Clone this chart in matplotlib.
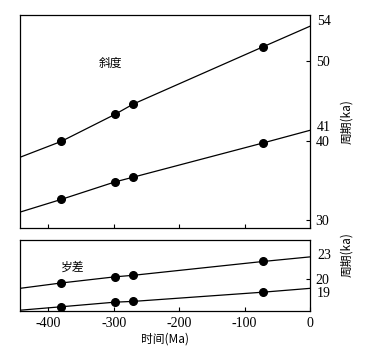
import matplotlib.pyplot as plt
import numpy as np

plt.rcParams['font.family'] = ['Liberation Serif', 'Noto Sans CJK SC', 'DejaVu Sans']

# 年代 (Ma)
ages = [-380, -298, -270, -72]
# 斜度周期 (ka)
obl_54 = [39.9, 43.3, 44.6, 51.8]
obl_41 = [32.6, 34.8, 35.4, 39.7]
# 岁差周期 (ka)
pre_23 = [19.5, 20.3, 20.5, 22.3]
pre_19 = [16.4, 17.0, 17.1, 18.3]
# 线的两端 (左边界, 0 Ma)
line_ends_x = [-443, 0]
obl_54_ends = [37.9, 54.4]
obl_41_ends = [31.0, 41.3]
pre_23_ends = [18.8, 22.9]
pre_19_ends = [15.95, 18.8]

fig = plt.figure(figsize=(3.65, 3.46), dpi=100)
ax1 = fig.add_axes([0.0548, 0.341, 0.795, 0.6156])
ax2 = fig.add_axes([0.0548, 0.1012, 0.795, 0.2052])


def draw_series(ax, ys, ends):
    x = [line_ends_x[0]] + ages + [line_ends_x[1]]
    y = [ends[0]] + ys + [ends[1]]
    ax.plot(x, y, color='k', lw=0.9)
    ax.plot(ages, ys, 'o', color='k', ms=5.5)


draw_series(ax1, obl_54, obl_54_ends)
draw_series(ax1, obl_41, obl_41_ends)
draw_series(ax2, pre_23, pre_23_ends)
draw_series(ax2, pre_19, pre_19_ends)

for ax in (ax1, ax2):
    ax.set_xlim(-443, 0)
    ax.set_xticks([-400, -300, -200, -100, 0])
    ax.yaxis.tick_right()
    ax.tick_params(axis='both', direction='in', length=3, width=0.8, labelsize=10, pad=4)
    ax.tick_params(axis='y', pad=4)
    for s in ax.spines.values():
        s.set_linewidth(0.9)

ax1.set_ylim(29.0, 55.8)
ax1.set_yticks([30, 40, 50])
ax1.tick_params(axis='x', labelbottom=False)
ax2.set_ylim(15.85, 25.1)
ax2.set_yticks([20])
ax2.set_xticklabels(['-400', '-300', '-200', '-100', '0'])

# 线端的周期标注
ax1.annotate('54', xy=(1, 54.4), xycoords=('axes fraction', 'data'), xytext=(5, 3),
             textcoords='offset points', va='center', fontsize=10)
ax1.annotate('41', xy=(1, 41.3), xycoords=('axes fraction', 'data'), xytext=(5, 2),
             textcoords='offset points', va='center', fontsize=10)
ax2.annotate('23', xy=(1, 22.9), xycoords=('axes fraction', 'data'), xytext=(5, 1),
             textcoords='offset points', va='center', fontsize=10)
ax2.annotate('19', xy=(1, 18.8), xycoords=('axes fraction', 'data'), xytext=(5, -4),
             textcoords='offset points', va='center', fontsize=10)

ax1.text(0.31, 0.775, '斜度', transform=ax1.transAxes, ha='center', va='center',
         fontsize=8.5, family=['Noto Sans CJK SC'])
ax2.text(0.183, 0.62, '岁差', transform=ax2.transAxes, ha='center', va='center',
         fontsize=8.5, family=['Noto Sans CJK SC'])

for ax, ycen in ((ax1, 0.5), (ax2, 0.8)):
    ax.yaxis.set_label_position('right')
    ax.set_ylabel('周期(ka)', rotation=90, fontsize=8.5,
                  family=['Noto Sans CJK SC', 'DejaVu Sans'])
    ax.yaxis.set_label_coords(1.105, ycen)

ax2.set_xlabel('时间(Ma)', fontsize=8.5, family=['Noto Sans CJK SC', 'DejaVu Sans'], labelpad=2)

fig.savefig('out.png', dpi=100, facecolor='white')
